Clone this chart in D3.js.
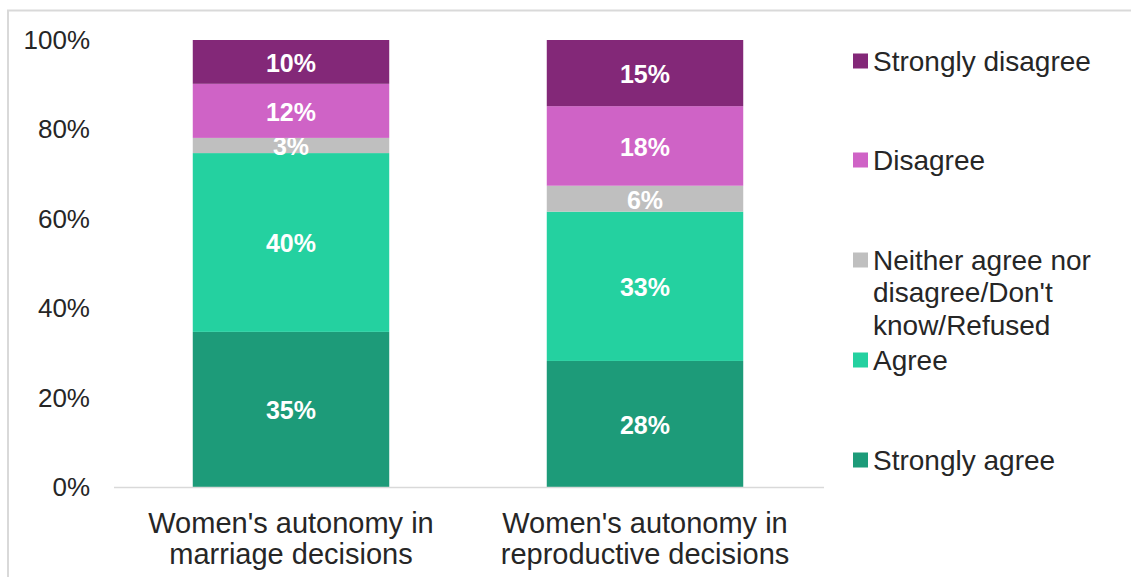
<!DOCTYPE html>
<html>
<head>
<meta charset="utf-8">
<script src="https://cdn.jsdelivr.net/npm/d3@7"></script>
<style>
  body { margin: 0; background: #fff; }
  svg { display: block; font-family: "Liberation Sans", Arial, sans-serif; }
</style>
</head>
<body>
<div id="chart"></div>
<script>
// categories (bars), series from bottom to top
var categories = [
  ["Women's autonomy in", "marriage decisions"],
  ["Women's autonomy in", "reproductive decisions"]
];
var seriesNames = ["Strongly agree", "Agree", "Neither agree nor disagree/Don't know/Refused", "Disagree", "Strongly disagree"];
var seriesColors = ["#1d9b79", "#24d1a0", "#bfbfbf", "#cf63c6", "#832878"];
var stronglyAgree = [34.7, 28.2];
var agree = [40.0, 33.4];
var neither = [3.4, 5.8];
var disagree = [12.1, 17.8];
var stronglyDisagree = [9.8, 14.8];
var yTicks = [0, 20, 40, 60, 80, 100];
// legend, top to bottom, lines wrapped like the original
var legendLines = [
  ["Strongly disagree"],
  ["Disagree"],
  ["Neither agree nor", "disagree/Don't", "know/Refused"],
  ["Agree"],
  ["Strongly agree"]
];
var legendColors = ["#832878", "#cf63c6", "#bfbfbf", "#24d1a0", "#1d9b79"];
var legendRowY = [61, 160, 260, 360, 460];

var W = 1131, H = 577;
var svg = d3.select("#chart").append("svg").attr("width", W).attr("height", H);

// outer chart border (runs off the bottom/right of the picture)
svg.append("rect")
  .attr("x", 8).attr("y", 10.5)
  .attr("width", 1200).attr("height", 700)
  .style("fill", "none").style("stroke", "#d9d9d9").style("stroke-width", 2);

var rows = categories.map(function (c, i) {
  return { i: i, sa: stronglyAgree[i], a: agree[i], n: neither[i], d: disagree[i], sd: stronglyDisagree[i] };
});
var keys = ["sa", "a", "n", "d", "sd"];
var stacked = d3.stack().keys(keys)(rows);

var x = d3.scaleBand().domain(d3.range(categories.length))
  .range([114, 822]).paddingInner(0.445).paddingOuter(0.2225);
var y = d3.scaleLinear().domain([0, 100]).range([487, 40]);

// y tick labels (no axis line)
svg.append("g").selectAll(".ytick").data(yTicks).enter().append("text")
  .attr("class", "ytick")
  .attr("x", 90).attr("y", function (d) { return y(d); })
  .attr("text-anchor", "end").attr("dominant-baseline", "central")
  .style("font-size", "26px").style("fill", "#262626")
  .text(function (d) { return d + "%"; });

// bars
var layers = svg.append("g").selectAll(".layer").data(stacked).enter().append("g")
  .attr("class", "layer")
  .style("fill", function (d, i) { return seriesColors[i]; });

layers.selectAll("rect").data(function (d) { return d; }).enter().append("rect")
  .attr("x", function (d) { return x(d.data.i); })
  .attr("width", x.bandwidth())
  .attr("y", function (d) { return y(d[1]); })
  .attr("height", function (d) { return y(d[0]) - y(d[1]); });

// value labels
layers.selectAll(".lbl").data(function (d) { return d; }).enter().append("text")
  .attr("class", "lbl")
  .attr("x", function (d) { return x(d.data.i) + x.bandwidth() / 2; })
  .attr("y", function (d) { return (y(d[0]) + y(d[1])) / 2 + 1; })
  .attr("text-anchor", "middle").attr("dominant-baseline", "central")
  .style("fill", "#fff").style("font-weight", "bold").style("font-size", "25px")
  .text(function (d) { return Math.round(d[1] - d[0]) + "%"; });

// x axis line
svg.append("line")
  .attr("x1", 114).attr("x2", 824).attr("y1", 487.5).attr("y2", 487.5)
  .style("stroke", "#d9d9d9").style("stroke-width", 1.5);

// category labels
var cat = svg.append("g").selectAll(".cat").data(categories).enter().append("text")
  .attr("class", "cat")
  .attr("x", function (d, i) { return x(i) + x.bandwidth() / 2; })
  .attr("y", 523)
  .attr("text-anchor", "middle")
  .style("font-size", "29px").style("fill", "#262626");
cat.selectAll("tspan").data(function (d) { return d; }).enter().append("tspan")
  .attr("x", function () { return d3.select(this.parentNode).attr("x"); })
  .attr("dy", function (d, j) { return j == 0 ? "0.35em" : "1.05em"; })
  .text(function (d) { return d; });

// legend
var leg = svg.append("g").selectAll(".leg").data(legendLines).enter().append("g")
  .attr("class", "leg")
  .attr("transform", function (d, i) { return "translate(853," + legendRowY[i] + ")"; });
leg.append("rect")
  .attr("x", 0).attr("y", -7.5).attr("width", 15).attr("height", 15)
  .style("fill", function (d, i) { return legendColors[i]; });
var lt = leg.append("text")
  .attr("x", 20).attr("y", 0)
  .style("font-size", "28px").style("fill", "#262626");
lt.selectAll("tspan").data(function (d) { return d; }).enter().append("tspan")
  .attr("x", 20)
  .attr("dy", function (d, j) { return j == 0 ? "0.35em" : "1.16em"; })
  .text(function (d) { return d; });
</script>
</body>
</html>
